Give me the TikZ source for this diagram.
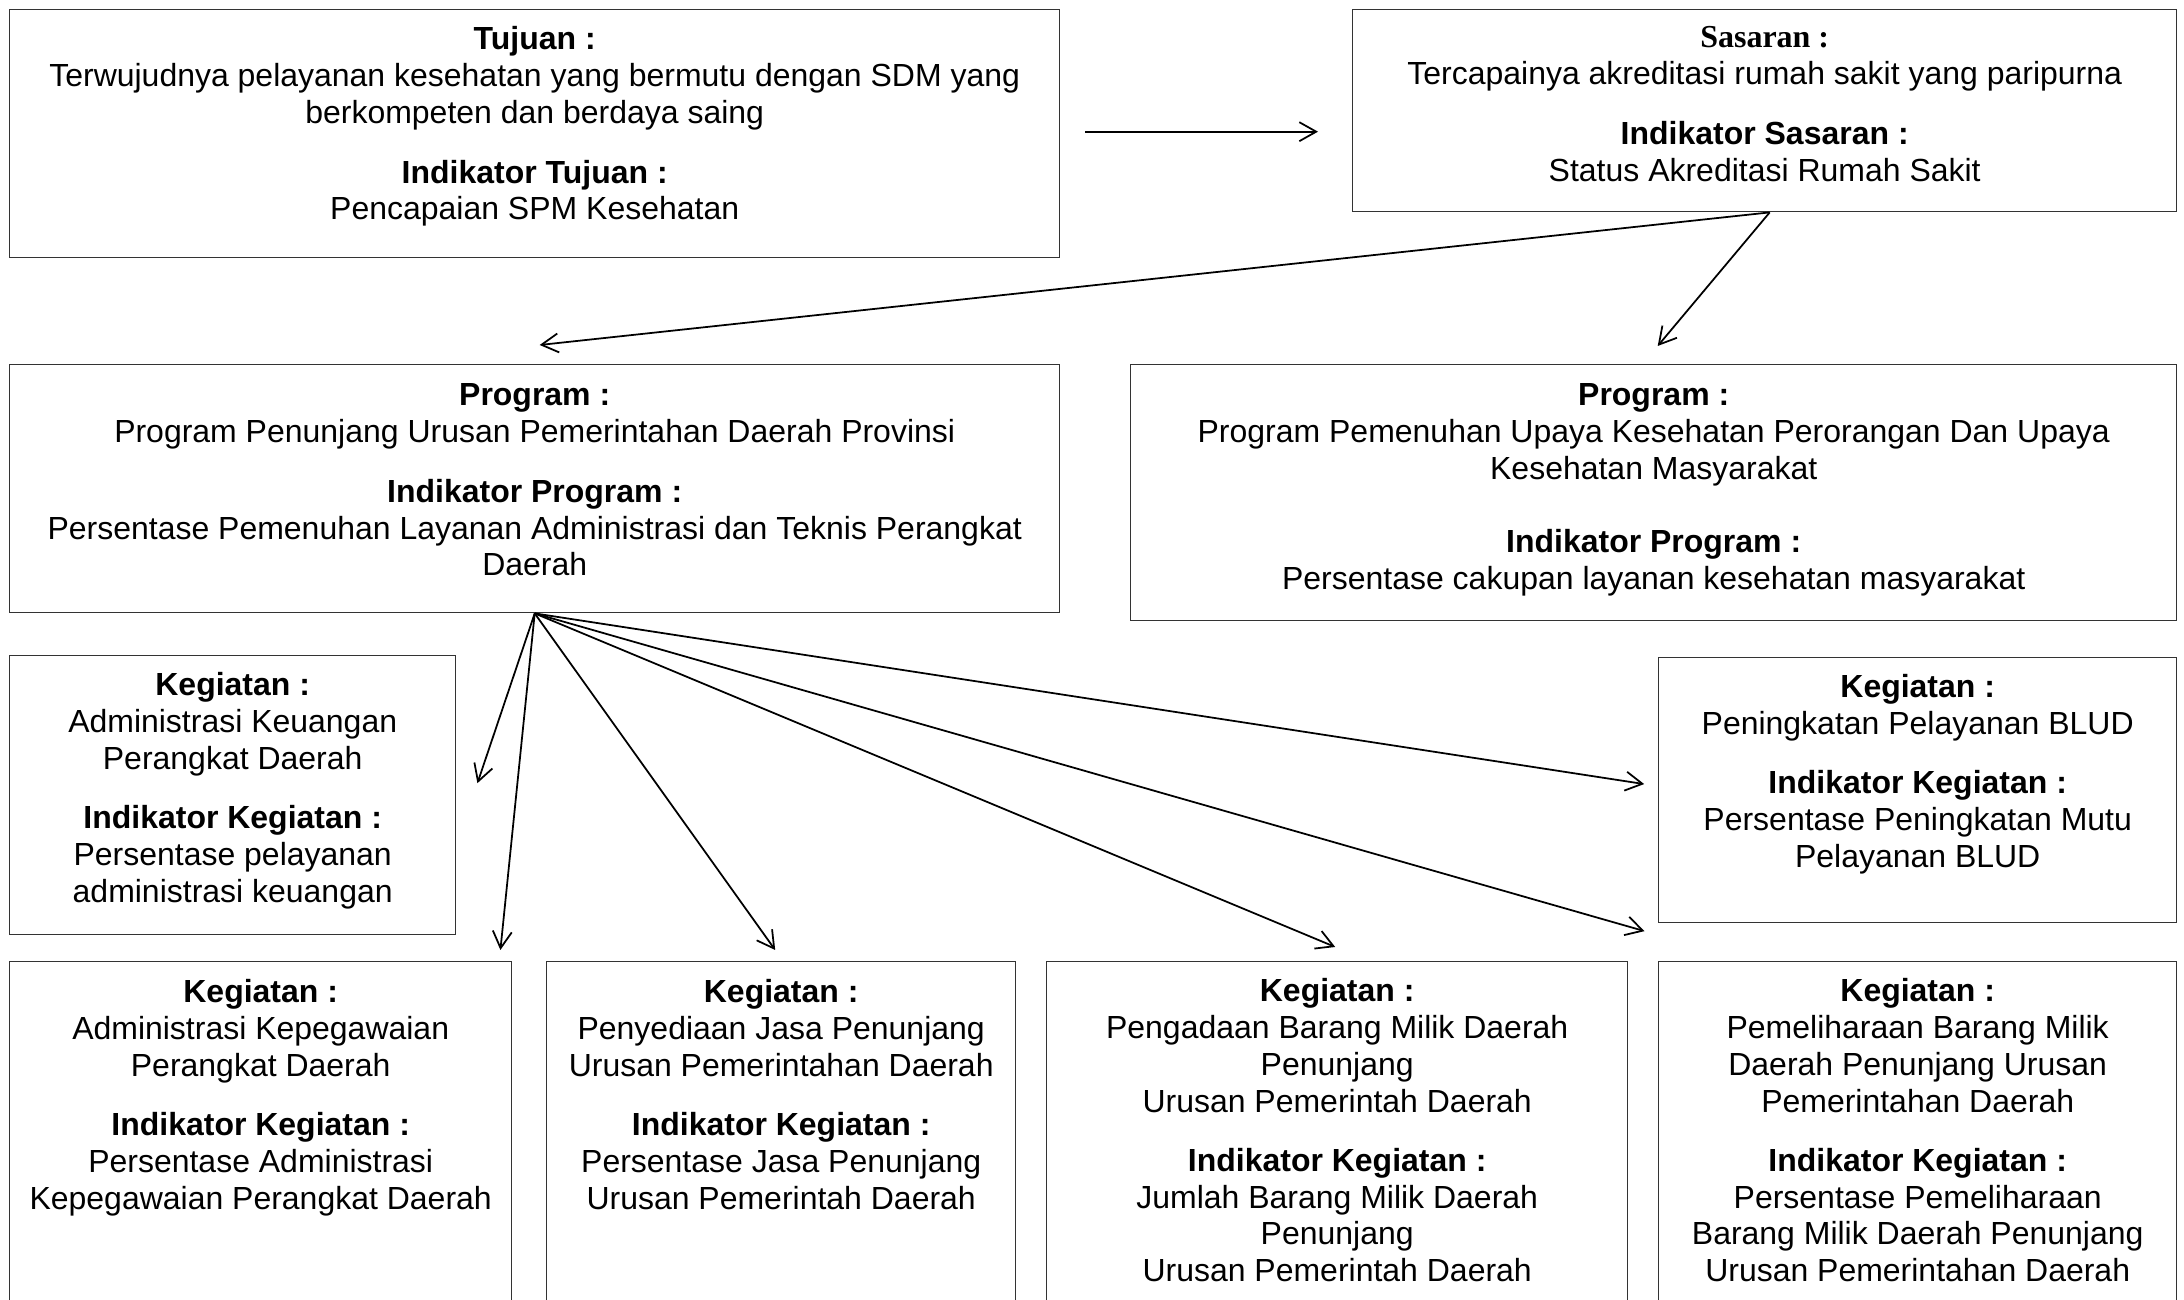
\documentclass[tikz,border=0pt]{standalone}
\usepackage{fontspec}
\setmainfont{Liberation Sans}
\newfontfamily\timesfont{Liberation Serif}
\usetikzlibrary{arrows.meta, positioning}
\tikzstyle{box} = [rectangle, draw=black!80, anchor=north west, inner sep=0pt]
\tikzstyle{txt} = [align=center, inner sep=0pt, font=\fontsize{9.1}{10.45}\selectfont]
\tikzstyle{arrow} = [line width=0.5pt, ->, >={Straight Barb[length=4.8pt,width=5.4pt]}]
\begin{document}
\begin{tikzpicture}
		\clip (0,0) rectangle (21.84,-13.00);
		\node (tujuan) [box, minimum width=10.50cm, minimum height=2.48cm] at (0.09,-0.09) {};
		\node (sasaran) [box, minimum width=8.24cm, minimum height=2.02cm] at (13.52,-0.09) {};
		\node (prog1) [box, minimum width=10.50cm, minimum height=2.48cm] at (0.09,-3.64) {};
		\node (prog2) [box, minimum width=10.46cm, minimum height=2.56cm] at (11.30,-3.64) {};
		\node (keu) [box, minimum width=4.46cm, minimum height=2.79cm] at (0.09,-6.55) {};
		\node (blud) [box, minimum width=5.18cm, minimum height=2.65cm] at (16.58,-6.57) {};
		\node (pegawai) [box, minimum width=5.02cm, minimum height=4cm] at (0.09,-9.61) {};
		\node (jasa) [box, minimum width=4.69cm, minimum height=4cm] at (5.46,-9.61) {};
		\node (pengadaan) [box, minimum width=5.81cm, minimum height=4cm] at (10.46,-9.61) {};
		\node (pelihara) [box, minimum width=5.18cm, minimum height=4cm] at (16.58,-9.61) {};
		\node (tujuantxt) [txt, below=0.17cm of tujuan.north] {\textbf{Tujuan :}\\Terwujudnya pelayanan kesehatan yang bermutu dengan SDM yang\\berkompeten dan berdaya saing\\[6.6pt]\textbf{Indikator Tujuan :}\\Pencapaian SPM Kesehatan};
		\node (sasarantxt) [txt, below=0.17cm of sasaran.north] {{\timesfont\bfseries Sasaran :}\\Tercapainya akreditasi rumah sakit yang paripurna\\[6.6pt]\textbf{Indikator Sasaran :}\\Status Akreditasi Rumah Sakit};
		\node (prog1txt) [txt, below=0.19cm of prog1.north] {\textbf{Program :}\\Program Penunjang Urusan Pemerintahan Daerah Provinsi\\[6.6pt]\textbf{Indikator Program :}\\Persentase Pemenuhan Layanan Administrasi dan Teknis Perangkat\\Daerah};
		\node (prog2txt) [txt, below=0.19cm of prog2.north] {\textbf{Program :}\\Program Pemenuhan Upaya Kesehatan Perorangan Dan Upaya\\Kesehatan Masyarakat\\[10.5pt]\textbf{Indikator Program :}\\Persentase cakupan layanan kesehatan masyarakat};
		\node (keutxt) [txt, below=0.17cm of keu.north] {\textbf{Kegiatan :}\\Administrasi Keuangan\\Perangkat Daerah\\[6.4pt]\textbf{Indikator Kegiatan :}\\Persentase pelayanan\\administrasi keuangan};
		\node (bludtxt) [txt, below=0.17cm of blud.north] {\textbf{Kegiatan :}\\Peningkatan Pelayanan BLUD\\[6.4pt]\textbf{Indikator Kegiatan :}\\Persentase Peningkatan Mutu\\Pelayanan BLUD};
		\node (pegawaitxt) [txt, below=0.18cm of pegawai.north] {\textbf{Kegiatan :}\\Administrasi Kepegawaian\\Perangkat Daerah\\[6.4pt]\textbf{Indikator Kegiatan :}\\Persentase Administrasi\\Kepegawaian Perangkat Daerah};
		\node (jasatxt) [txt, below=0.18cm of jasa.north] {\textbf{Kegiatan :}\\Penyediaan Jasa Penunjang\\Urusan Pemerintahan Daerah\\[6.4pt]\textbf{Indikator Kegiatan :}\\Persentase Jasa Penunjang\\Urusan Pemerintah Daerah};
		\node (pengadaantxt) [txt, below=0.17cm of pengadaan.north] {\textbf{Kegiatan :}\\Pengadaan Barang Milik Daerah\\Penunjang\\Urusan Pemerintah Daerah\\[6.4pt]\textbf{Indikator Kegiatan :}\\Jumlah Barang Milik Daerah\\Penunjang\\Urusan Pemerintah Daerah};
		\node (peliharatxt) [txt, below=0.17cm of pelihara.north] {\textbf{Kegiatan :}\\Pemeliharaan Barang Milik\\Daerah Penunjang Urusan\\Pemerintahan Daerah\\[6.4pt]\textbf{Indikator Kegiatan :}\\Persentase Pemeliharaan\\Barang Milik Daerah Penunjang\\Urusan Pemerintahan Daerah};
		\draw [arrow, shorten <=0.25cm, shorten >=0.34cm] ([yshift=0.02cm]tujuan.east) -- ([yshift=0.02cm]tujuan.east -| sasaran.west);
		\draw [arrow] ([xshift=0.05cm]sasaran.south) -- ([shift={(0.05,0.19)}]prog1.north);
		\draw [arrow] ([xshift=0.05cm]sasaran.south) -- ([shift={(0.04,0.18)}]prog2.north);
		\draw [arrow] (prog1.south) -- ([shift={(0.21,0.12)}]keu.east);
		\draw [arrow] (prog1.south) -- ([shift={(-0.12,0.11)}]pegawai.north east);
		\draw [arrow] (prog1.south) -- ([shift={(-0.06,0.11)}]jasa.north);
		\draw [arrow] (prog1.south) -- ([shift={(-0.02,0.14)}]pengadaan.north);
		\draw [arrow, shorten >=0.14cm] (prog1.south) -- ([yshift=0.26cm]pelihara.north west);
		\draw [arrow, shorten >=0.14cm] (prog1.south) -- ([yshift=0.04cm]blud.west);
	\end{tikzpicture}
\end{document}
